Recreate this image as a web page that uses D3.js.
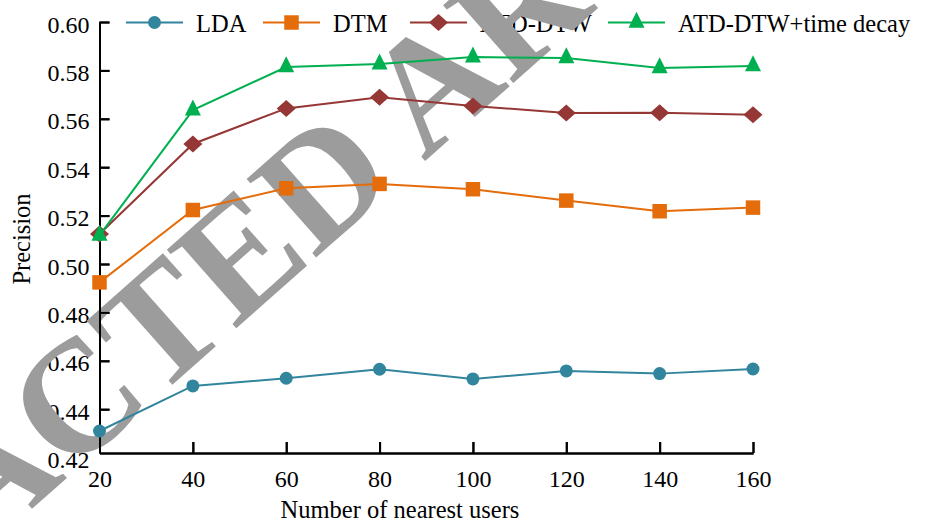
<!DOCTYPE html>
<html>
<head>
<meta charset="utf-8">
<script src="https://cdn.jsdelivr.net/npm/d3@7"></script>
<style>
    body { margin: 0; background: #fff; }
    text { font-family: "Liberation Serif", "Times New Roman", serif; }
</style>
</head>
<body>
<div id="chart"></div>
<script>
// values
const users = [20, 40, 60, 80, 100, 120, 140, 160]
const ldaPrecision = [0.4310, 0.4496, 0.4528, 0.4565, 0.4525, 0.4558, 0.4547, 0.4566]
const dtmPrecision = [0.4924, 0.5223, 0.5313, 0.5331, 0.5309, 0.5262, 0.5218, 0.5233]
const atdPrecision = [0.5124, 0.5496, 0.5643, 0.5689, 0.5653, 0.5624, 0.5625, 0.5617]
const atdDecayPrecision = [0.5118, 0.5636, 0.5814, 0.5826, 0.5855, 0.5851, 0.5810, 0.5818]
const seriesNames = ['LDA', 'DTM', 'ATD-DTW', 'ATD-DTW+time decay']
const xTicks = [20, 40, 60, 80, 100, 120, 140, 160]
const yTicks = [0.42, 0.44, 0.46, 0.48, 0.50, 0.52, 0.54, 0.56, 0.58, 0.60]
const yFloor = 0.4219 // the x axis sits just above the 0.42 label
const watermark = 'RETRACTED ARTICLE'

const width = 931
const height = 524
const plot = { left: 99.5, right: 753, top: 22, bottom: 453 }
const legendX = [126, 263, 410, 608]
const colors = ['#31859C', '#E46C0A', '#953735', '#00B050']

let x = d3.scaleLinear()
    .domain([20, 160])
    .range([plot.left, plot.right])

let y = d3.scaleLinear()
    .domain([yFloor, 0.60])
    .range([plot.bottom, plot.top])

let svg = d3.select('#chart')
    .append('svg')
    .attr('width', width)
    .attr('height', height)

function markerPath(kind) {
    if (kind === 'circle') return d3.symbol(d3.symbolCircle, Math.PI * 6.5 * 6.5)()
    if (kind === 'square') return d3.symbol(d3.symbolSquare, 14.5 * 14.5)()
    if (kind === 'diamond') return 'M0,-8.5L9.5,0L0,8.5L-9.5,0Z'
    return 'M0,-10.7L8,5.3L-8,5.3Z'
}

let series = [
    { name: seriesNames[0], values: ldaPrecision, color: colors[0], marker: 'circle' },
    { name: seriesNames[1], values: dtmPrecision, color: colors[1], marker: 'square' },
    { name: seriesNames[2], values: atdPrecision, color: colors[2], marker: 'diamond' },
    { name: seriesNames[3], values: atdDecayPrecision, color: colors[3], marker: 'triangle' }
]

let xAxis = d3.axisBottom(x)
    .tickValues(xTicks)
    .tickSizeInner(-11)
    .tickSizeOuter(0)
    .tickPadding(17)

let yAxis = d3.axisLeft(y)
    .tickValues(yTicks)
    .tickFormat(d3.format('.2f'))
    .tickSizeInner(-10)
    .tickSizeOuter(0)
    .tickPadding(10)

function styleAxis(g) {
    g.attr('font-size', 24)
        .attr('font-family', '"Liberation Serif", "Times New Roman", serif')
    g.selectAll('path, line').attr('stroke', '#000').attr('stroke-width', 2)
    g.selectAll('text').attr('fill', '#000')
}

// axes with labels (under the watermark)
let gx = svg.append('g')
    .attr('transform', `translate(0, ${plot.bottom})`)
    .call(xAxis)
    .call(styleAxis)

let gy = svg.append('g')
    .attr('transform', `translate(${plot.left}, 0)`)
    .call(yAxis)
    .call(styleAxis)
gy.selectAll('.tick text').attr('dy', '0.42em')
gy.selectAll('.tick line').filter((d) => d < yFloor).remove()

svg.append('text')
    .attr('text-anchor', 'middle')
    .attr('x', 400)
    .attr('y', 518)
    .attr('font-size', 24.5)
    .text('Number of nearest users')

svg.append('text')
    .attr('text-anchor', 'middle')
    .attr('transform', 'translate(29.5, 239) rotate(-90)')
    .attr('font-size', 24.5)
    .text('Precision')

// legend
let legend = svg.append('g')
    .selectAll('g')
    .data(series)
    .enter().append('g')
    .attr('transform', (d, i) => `translate(${legendX[i]}, 22.5)`)

legend.append('line')
    .attr('x1', 0)
    .attr('x2', 57)
    .attr('stroke', (d) => d.color)
    .attr('stroke-width', 2)

legend.append('path')
    .attr('transform', 'translate(28.5, 0)')
    .attr('d', (d) => markerPath(d.marker))
    .attr('fill', (d) => d.color)

legend.append('text')
    .attr('x', 70)
    .attr('dy', '0.4em')
    .attr('font-size', 24.5)
    .text((d) => d.name)

// watermark stamp
svg.append('g')
    .attr('transform', 'translate(272, 226) rotate(-41.5)')
    .append('text')
    .attr('text-anchor', 'middle')
    .attr('dy', '0.33em')
    .attr('font-size', 160)
    .attr('font-weight', 'bold')
    .attr('fill', '#9c9c9c')
    .text(watermark)

// axis lines again on top of the stamp
svg.append('g')
    .attr('transform', `translate(0, ${plot.bottom})`)
    .call(xAxis.tickFormat(''))
    .call(styleAxis)

let gy2 = svg.append('g')
    .attr('transform', `translate(${plot.left}, 0)`)
    .call(yAxis.tickFormat(''))
    .call(styleAxis)
gy2.selectAll('.tick line').filter((d) => d < yFloor).remove()

// series
let line = d3.line()
    .x((d, i) => x(users[i]))
    .y((d) => y(d))

let groups = svg.append('g')
    .selectAll('g')
    .data(series)
    .enter().append('g')

groups.append('path')
    .attr('d', (d) => line(d.values))
    .attr('fill', 'none')
    .attr('stroke', (d) => d.color)
    .attr('stroke-width', 2)

groups.selectAll('.marker')
    .data((d) => d.values.map((v, i) => ({ v: v, u: users[i], s: d })))
    .enter().append('path')
    .attr('class', 'marker')
    .attr('transform', (d) => `translate(${x(d.u)}, ${y(d.v)})`)
    .attr('d', (d) => markerPath(d.s.marker))
    .attr('fill', (d) => d.s.color)
</script>
</body>
</html>
